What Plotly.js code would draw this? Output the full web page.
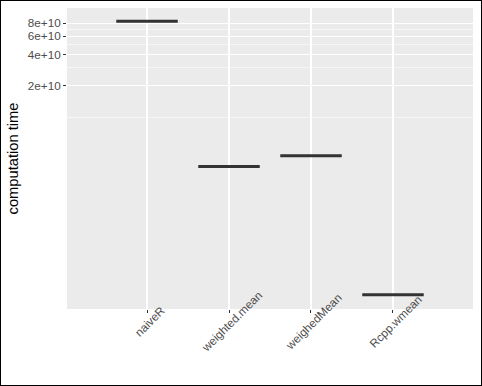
<!DOCTYPE html>
<html>
<head>
<meta charset="utf-8">
<script src="https://cdn.plot.ly/plotly-3.0.1.min.js"></script>
<style>
  html, body { margin: 0; padding: 0; background: #ffffff; }
  #wrap { position: relative; width: 482px; height: 386px; }
  #chart { width: 482px; height: 386px; }
  #frame { position: absolute; left: 0; top: 0; width: 480px; height: 384px; border: 1px solid #000; pointer-events: none; }
</style>
</head>
<body>
<div id="wrap"><div id="chart"></div><div id="frame"></div></div>
<script>
// Data (computation time, log scale)
var methods = ["naiveR", "weighted.mean", "weighedMean", "Rcpp.wmean"];
var computationTime = [8.36e10, 3.35e9, 4.25e9, 1.97e8];
var majorTicks = [2e10, 4e10, 6e10, 8e10];
var majorTickLabels = ["2e+10", "4e+10", "6e+10", "8e+10"];
var minorTicks = [1e10, 3e10, 5e10, 7e10];

var font = "Liberation Sans, Arial, Helvetica, sans-serif";

var traces = methods.map(function (m, i) {
  return {
    type: "box",
    x: [m],
    y: [computationTime[i]],
    width: 0.75,
    boxpoints: false,
    fillcolor: "rgba(255,255,255,0)",
    line: { color: "#333333", width: 3 },
    whiskerwidth: 0,
    showlegend: false,
    hoverinfo: "y"
  };
});

// x tick labels: rotated 45 degrees, centred on each tick (as ggplot does)
var labelAnnotations = methods.map(function (m) {
  return {
    x: m,
    xref: "x",
    y: 0,
    yref: "paper",
    xanchor: "center",
    yanchor: "middle",
    xshift: 2,
    yshift: -12,
    text: m,
    textangle: -45,
    showarrow: false,
    font: { family: font, size: 11.7, color: "#4d4d4d" }
  };
});

var layout = {
  width: 482,
  height: 386,
  margin: { l: 67, r: 9, t: 8, b: 77 },
  paper_bgcolor: "#ffffff",
  plot_bgcolor: "#ebebeb",
  font: { family: font, color: "#4d4d4d" },
  showlegend: false,
  boxmode: "overlay",
  annotations: labelAnnotations,
  xaxis: {
    type: "category",
    categoryorder: "array",
    categoryarray: methods,
    range: [-0.976, 3.976],
    showgrid: true,
    gridcolor: "#ffffff",
    gridwidth: 1.1,
    zeroline: false,
    showline: false,
    ticks: "outside",
    ticklen: 3,
    tickwidth: 1,
    tickcolor: "#333333",
    showticklabels: false,
    fixedrange: true
  },
  yaxis: {
    type: "log",
    range: [8.157, 11.049],
    tickmode: "array",
    tickvals: majorTicks,
    ticktext: majorTickLabels,
    showgrid: true,
    gridcolor: "#ffffff",
    gridwidth: 1.1,
    minor: {
      tickmode: "array",
      tickvals: minorTicks,
      showgrid: true,
      gridcolor: "#ffffff",
      gridwidth: 0.55,
      ticks: ""
    },
    zeroline: false,
    showline: false,
    ticks: "outside",
    ticklen: 3,
    tickwidth: 1,
    tickcolor: "#333333",
    tickfont: { family: font, size: 11.7, color: "#4d4d4d" },
    title: { text: "computation time", font: { family: font, size: 14.7, color: "#000000" }, standoff: 5 },
    fixedrange: true
  }
};

Plotly.newPlot("chart", traces, layout, { staticPlot: true, displayModeBar: false });
</script>
</body>
</html>
